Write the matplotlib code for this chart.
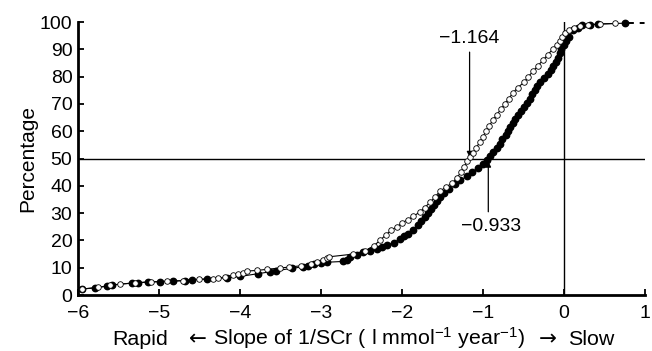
import matplotlib
matplotlib.use("Agg")
import matplotlib.pyplot as plt

plt.rcParams['font.family'] = ['Liberation Sans', 'DejaVu Sans']
plt.rcParams['mathtext.fontset'] = 'custom'
plt.rcParams['mathtext.rm'] = 'Liberation Sans'
plt.rcParams['mathtext.it'] = 'Liberation Sans'

# filled circles (slope, cumulative percentage)
filled_x = [-5.95, -5.79, -5.64, -5.58, -5.33, -5.26, -5.14, -4.99, -4.83, -4.68,
            -4.59, -4.41, -4.16, -4.00, -3.78, -3.63, -3.55, -3.36, -3.22, -3.16,
            -3.08, -3.00, -2.93, -2.73, -2.68, -2.64, -2.55, -2.48, -2.40, -2.31,
            -2.25, -2.18, -2.10, -2.02, -1.97, -1.92, -1.86, -1.80, -1.76, -1.72,
            -1.68, -1.64, -1.60, -1.57, -1.53, -1.48, -1.42, -1.35, -1.28, -1.20,
            -1.13, -1.06, -1.00, -0.95, -0.91, -0.87, -0.83, -0.79, -0.76, -0.72,
            -0.69, -0.66, -0.63, -0.60, -0.57, -0.53, -0.49, -0.46, -0.42, -0.39,
            -0.36, -0.33, -0.29, -0.25, -0.20, -0.16, -0.13, -0.10, -0.07, -0.05,
            -0.03, 0.00, 0.03, 0.06, 0.11, 0.17, 0.23, 0.32, 0.42, 0.75]
filled_y = [2.2, 2.6, 3.3, 3.7, 4.4, 4.5, 4.8, 4.9, 5.1, 5.3,
            5.6, 5.9, 6.3, 6.8, 7.8, 8.5, 8.9, 9.8, 10.3, 10.8,
            11.2, 11.6, 12.0, 12.3, 13.0, 14.0, 14.8, 15.6, 16.2, 17.0,
            17.6, 18.3, 19.2, 20.5, 21.5, 22.5, 24.0, 25.5, 27.0, 28.5,
            30.0, 31.5, 33.0, 34.5, 36.0, 37.5, 39.0, 40.5, 42.0, 43.5,
            45.0, 46.5, 48.0, 49.5, 51.0, 52.5, 54.0, 55.5, 57.0, 58.5,
            60.0, 61.5, 63.0, 64.5, 66.0, 67.5, 69.0, 70.5, 72.0, 73.5,
            75.0, 76.5, 78.0, 79.5, 81.0, 82.5, 84.0, 85.5, 87.0, 88.5,
            90.0, 91.5, 93.0, 94.5, 97.0, 98.0, 98.9, 99.0, 99.3, 99.6]

# open circles
open_x = [-5.95, -5.75, -5.60, -5.48, -5.30, -5.10, -4.90, -4.70, -4.50, -4.33,
          -4.27, -4.18, -4.09, -4.02, -3.96, -3.91, -3.79, -3.67, -3.51, -3.40,
          -3.25, -3.12, -3.05, -2.98, -2.93, -2.90, -2.60, -2.45, -2.35, -2.27,
          -2.20, -2.13, -2.06, -2.00, -1.93, -1.86, -1.78, -1.72, -1.65, -1.59,
          -1.53, -1.46, -1.38, -1.32, -1.27, -1.23, -1.19, -1.16, -1.12, -1.08,
          -1.04, -1.00, -0.96, -0.92, -0.88, -0.83, -0.78, -0.73, -0.68, -0.63,
          -0.57, -0.49, -0.44, -0.38, -0.32, -0.26, -0.20, -0.14, -0.09, -0.05,
          -0.02, 0.02, 0.06, 0.12, 0.20, 0.30, 0.45, 0.63]
open_y = [2.2, 2.8, 3.5, 4.0, 4.4, 4.8, 5.0, 5.3, 5.7, 6.0,
          6.2, 6.6, 7.3, 7.8, 8.2, 8.8, 9.0, 9.4, 9.9, 10.2,
          10.7, 11.4, 12.0, 12.8, 13.4, 14.0, 15.0, 16.2, 18.0, 20.0,
          22.0, 23.8, 25.0, 26.4, 27.6, 28.8, 30.4, 32.0, 34.0, 36.0,
          38.0, 39.5, 41.0, 43.0, 45.0, 47.0, 49.0, 50.5, 52.0, 54.0,
          56.0, 58.0, 60.0, 62.0, 64.0, 66.0, 68.0, 70.0, 72.0, 74.0,
          76.0, 78.0, 80.0, 82.0, 84.0, 86.0, 88.0, 90.0, 91.5, 93.0,
          94.5, 96.0, 97.0, 98.0, 98.6, 99.0, 99.3, 99.5]

median_open = -1.164
median_filled = -0.933

fs = 14
fs_lab = 15.4

fig = plt.figure(figsize=(6.52, 3.51), dpi=100)
ax = fig.add_axes([0.1196, 0.1595, 0.8694, 0.7775])

ax.axhline(50, color='black', lw=1.0, zorder=1)
ax.plot([0, 0], [0, 100], color='black', lw=1.0, zorder=1)

ax.plot(filled_x, filled_y, color='black', lw=0.8, marker='o', ms=4.6,
        mfc='black', mec='black', zorder=3, clip_on=False)
ax.plot(open_x, open_y, color='black', lw=0.8, marker='o', ms=4.0,
        mfc='white', mec='black', mew=0.6, zorder=4, clip_on=False)
ax.plot([filled_x[-1] + 0.05, 1.0], [filled_y[-1], filled_y[-1]], color='black',
        lw=1.4, ls=(0, (2.5, 3)), zorder=2, clip_on=False)

# median markers: label plus vertical arrow
ax.text(median_open, 94, '\u22121.164', ha='center', va='center', fontsize=fs)
ax.annotate('', xy=(median_open, 50.5), xytext=(median_open, 89),
            arrowprops=dict(arrowstyle='-|>', color='black', lw=0.9,
                            mutation_scale=8, shrinkA=0, shrinkB=0))
ax.text(median_filled + 0.03, 25, '\u22120.933', ha='center', va='center', fontsize=fs)
ax.annotate('', xy=(median_filled, 49), xytext=(median_filled, 30.5),
            arrowprops=dict(arrowstyle='-|>', color='black', lw=0.9,
                            mutation_scale=8, shrinkA=0, shrinkB=0))

ax.set_xlim(-6, 1)
ax.set_ylim(0, 100)
ax.set_xticks(range(-6, 2))
ax.set_yticks(range(0, 101, 10))
ax.tick_params(direction='in', length=4, width=1.3, labelsize=fs, pad=7)
ax.tick_params(axis='y', pad=4)
for s in ['top', 'right']:
    ax.spines[s].set_visible(False)
for s in ['left', 'bottom']:
    ax.spines[s].set_linewidth(2)

ax.set_ylabel('Percentage', fontsize=15, labelpad=2)

# x-axis caption in pieces, on a shared baseline
yb = 1 - 345 / 351
fig.text(112 / 652, yb, 'Rapid', ha='left', va='baseline', fontsize=fs_lab)
fig.text(198 / 652, yb, '\u2190', ha='center', va='baseline', fontsize=fs_lab,
         family='DejaVu Sans')
fig.text(213 / 652, yb, 'Slope of 1/SCr ( l mmol$^{-1}$ year$^{-1}$)',
         ha='left', va='baseline', fontsize=fs_lab)
fig.text(548 / 652, yb, '\u2192', ha='center', va='baseline', fontsize=fs_lab,
         family='DejaVu Sans')
fig.text(614 / 652, yb, 'Slow', ha='right', va='baseline', fontsize=fs_lab)

fig.savefig('out.png', dpi=100)
